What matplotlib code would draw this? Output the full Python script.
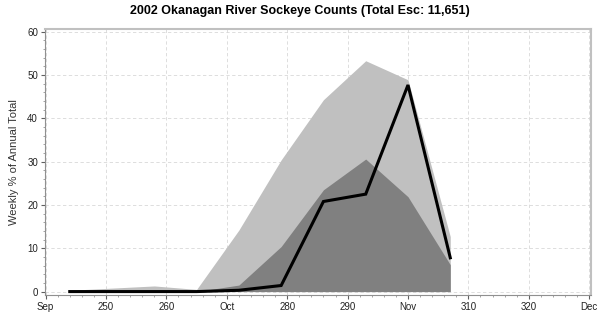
import matplotlib
matplotlib.use("Agg")
import matplotlib.pyplot as plt
from matplotlib.ticker import MultipleLocator

plt.rcParams['font.family'] = ['Liberation Sans', 'DejaVu Sans']

days = [244, 251, 258, 265, 272, 279, 286, 293, 300, 307]
max_pct = [0.3, 0.8, 1.3, 0.5, 14.2, 30.4, 44.3, 53.3, 48.9, 12.7]
mean_pct = [0.0, 0.0, 0.2, 0.0, 1.5, 10.4, 23.5, 30.6, 21.9, 6.2]
year_pct = [0.0, 0.0, 0.0, 0.0, 0.3, 1.4, 20.8, 22.5, 47.7, 7.8]

xticks = [240, 250, 260, 270, 280, 290, 300, 310, 320, 330]
xlabels = ['Sep', '250', '260', 'Oct', '280', '290', 'Nov', '310', '320', 'Dec']
yticks = [0, 10, 20, 30, 40, 50, 60]

fig = plt.figure(figsize=(6, 3.2), dpi=100)
ax = fig.add_axes([0.075, 0.078, 0.910, 0.831])

ax.fill_between(days, 0, max_pct, color='#c0c0c0', linewidth=0, zorder=2)
ax.fill_between(days, 0, mean_pct, color='#808080', linewidth=0, zorder=3)
ax.plot(days, year_pct, color='black', linewidth=2.2, zorder=4, solid_joinstyle='miter')

ax.set_xlim(239.9, 330.3)
ax.set_ylim(-0.8, 60.6)
ax.set_xticks(xticks)
ax.set_xticklabels(xlabels)
ax.set_yticks(yticks)
ax.xaxis.set_minor_locator(MultipleLocator(2))
ax.yaxis.set_minor_locator(MultipleLocator(2))
ax.tick_params(axis='both', which='major', labelsize=7, length=3, width=0.8, color='#606060', labelcolor='#222222', pad=2)
ax.tick_params(axis='both', which='minor', length=1.5, width=0.5, color='#808080')

ax.grid(True, which='major', color='#d8d8d8', linestyle=(0, (4, 3)), linewidth=0.6, zorder=1)
ax.set_axisbelow(True)

for s in ax.spines.values():
    s.set_color('#c0c0c0')
    s.set_linewidth(1.5)
ax.spines['bottom'].set_color('#909090')
ax.spines['bottom'].set_linewidth(0.8)
ax.spines['left'].set_color('#909090')
ax.spines['left'].set_linewidth(0.8)

ax.set_ylabel('Weekly % of Annual Total', fontsize=8, color='#333333', labelpad=6)
fig.suptitle('2002 Okanagan River Sockeye Counts (Total Esc: 11,651)', fontsize=9, fontweight='bold', y=0.985)

fig.savefig('out.png', dpi=100)
